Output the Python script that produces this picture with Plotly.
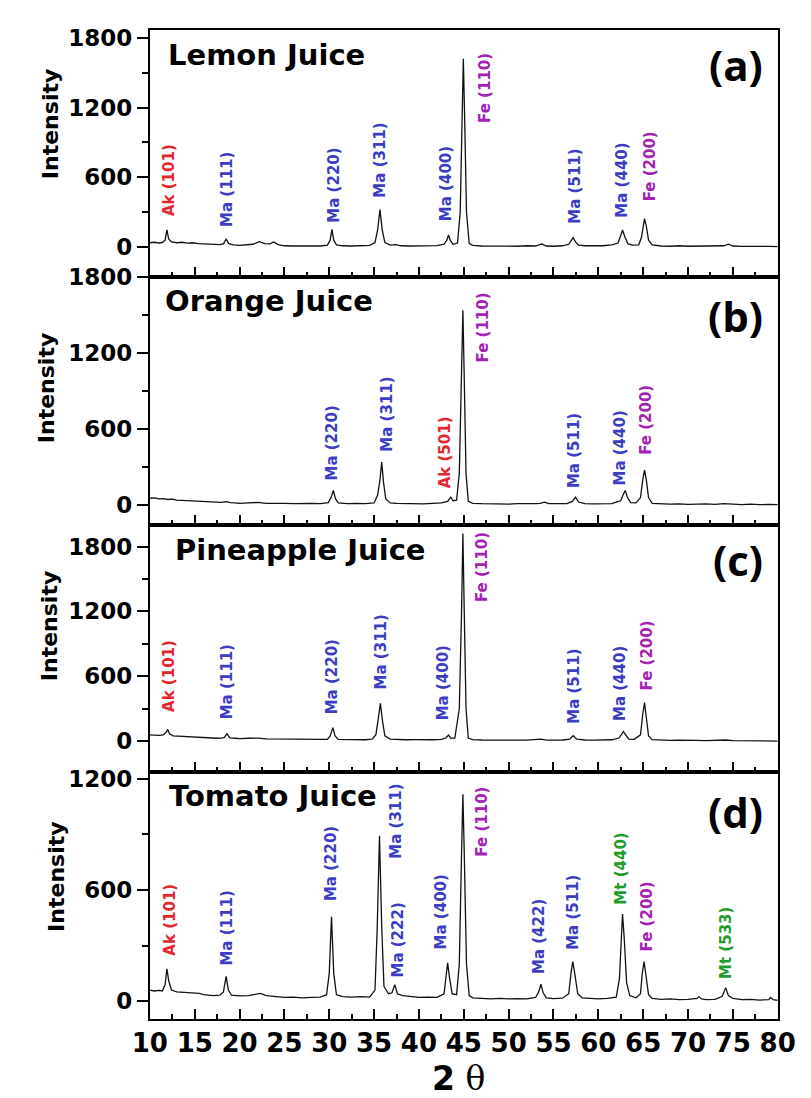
import plotly.graph_objects as go

# ---------------- data ----------------
TT_A = [10.0, 10.5, 11.0, 11.4, 11.7, 11.9, 12.1, 12.4, 13.0, 13.6, 14.2, 14.8, 15.4, 16.0, 16.6, 17.2, 17.8, 18.2, 18.5, 18.8,
        19.3, 20.0, 20.8, 21.5, 22.2, 22.8, 23.4, 23.8, 24.3, 25.0, 26.0, 27.0, 28.0, 29.0, 29.8, 30.1, 30.3, 30.5, 30.8, 31.5,
        32.5, 33.5, 34.5, 35.1, 35.4, 35.65, 35.9, 36.2, 36.8, 37.4, 38.0, 39.0, 40.0, 41.0, 42.0, 42.8, 43.1, 43.3, 43.5, 43.8,
        44.3, 44.6, 44.8, 44.95, 45.1, 45.3, 45.6, 46.0, 47.0, 48.0, 49.0, 50.0, 51.0, 52.0, 53.0, 53.7, 54.2, 55.0, 56.0, 56.7,
        57.0, 57.2, 57.45, 57.8, 58.5, 59.5, 60.5, 61.5, 62.2, 62.5, 62.7, 62.95, 63.3, 63.8, 64.5, 64.8, 65.0, 65.15, 65.35, 65.6,
        66.0, 67.0, 68.0, 69.0, 70.0, 71.0, 72.0, 73.0, 74.0, 74.5, 75.0, 76.0, 77.0, 78.0, 79.0, 80.0]
INT_A = [38, 42, 36, 40, 60, 148, 70, 45, 38, 42, 35, 38, 30, 28, 22, 18, 22, 28, 68, 30,
         20, 15, 18, 25, 48, 30, 28, 45, 22, 12, 10, 8, 12, 10, 18, 60, 153, 60, 20, 12,
         10, 14, 15, 40, 150, 323, 150, 40, 18, 22, 12, 10, 12, 8, 14, 25, 60, 105, 55, 25,
         35, 300, 1100, 1619, 1100, 300, 30, 15, 10, 8, 12, 10, 8, 12, 10, 28, 10, 8, 12, 25,
         65, 82, 45, 18, 12, 10, 12, 20, 35, 100, 147, 90, 30, 18, 20, 80, 200, 246, 180, 60,
         20, 10, 8, 12, 8, 10, 6, 10, 12, 25, 10, 6, 8, 4, 6, 5]

TT_B = [10.0, 10.5, 11.0, 11.5, 12.0, 12.5, 13.0, 13.5, 14.0, 14.5, 15.0, 15.5, 16.0, 16.5, 17.0, 17.5, 18.0, 18.5, 19.0, 19.5,
        20.0, 21.0, 22.0, 23.0, 24.0, 25.0, 26.0, 27.0, 28.0, 29.0, 29.9, 30.2, 30.45, 30.7, 31.0, 32.0, 33.0, 34.0, 35.0, 35.4,
        35.65, 35.85, 36.05, 36.3, 36.8, 37.5, 38.5, 39.5, 40.5, 41.5, 42.5, 43.2, 43.55, 43.8, 44.2, 44.5, 44.75, 44.9, 45.05, 45.25,
        45.5, 46.0, 47.0, 48.0, 49.0, 50.0, 51.0, 52.0, 53.0, 53.5, 54.0, 54.5, 55.5, 56.5, 57.1, 57.45, 57.8, 58.5, 59.5, 60.5,
        61.5, 62.0, 62.5, 62.75, 63.0, 63.25, 63.6, 64.2, 64.7, 64.95, 65.15, 65.35, 65.6, 66.0, 67.0, 68.0, 69.0, 70.0, 71.0, 72.0,
        73.0, 74.0, 75.0, 76.0, 77.0, 78.0, 79.0, 80.0]
INT_B = [55, 58, 50, 52, 45, 48, 40, 38, 35, 30, 28, 30, 25, 22, 25, 20, 22, 28, 20, 18,
         15, 18, 22, 15, 12, 14, 12, 10, 14, 12, 20, 60, 116, 50, 18, 12, 15, 12, 18, 80,
         200, 340, 180, 50, 18, 15, 12, 14, 10, 14, 18, 30, 63, 35, 40, 250, 1000, 1536, 1000, 250,
         30, 15, 12, 10, 12, 8, 12, 10, 12, 15, 24, 12, 10, 12, 30, 63, 25, 12, 10, 14,
         12, 25, 35, 80, 116, 60, 20, 18, 60, 200, 277, 200, 60, 15, 10, 8, 10, 6, 8, 10,
         6, 12, 8, 5, 8, 4, 6, 5]

TT_C = [10.0, 10.5, 11.0, 11.5, 11.8, 12.0, 12.2, 12.6, 13.0, 13.5, 14.0, 14.5, 15.0, 15.5, 16.0, 16.5, 17.0, 17.5, 18.0, 18.3,
        18.6, 18.9, 19.5, 20.0, 21.0, 22.0, 23.0, 24.0, 25.0, 26.0, 27.0, 28.0, 29.0, 29.8, 30.1, 30.4, 30.65, 31.0, 32.0, 33.0,
        34.0, 34.8, 35.2, 35.45, 35.7, 35.95, 36.2, 36.8, 37.5, 38.5, 39.5, 40.5, 41.5, 42.5, 43.0, 43.3, 43.55, 44.0, 44.5, 44.75,
        44.9, 45.05, 45.25, 45.5, 46.0, 47.0, 48.0, 49.0, 50.0, 51.0, 52.0, 53.0, 53.6, 54.2, 55.0, 56.0, 56.8, 57.2, 57.6, 58.5,
        59.5, 60.5, 61.5, 62.3, 62.6, 62.8, 63.05, 63.4, 64.0, 64.7, 64.95, 65.15, 65.35, 65.6, 66.0, 67.0, 68.0, 69.0, 70.0, 71.0,
        72.0, 73.0, 74.2, 75.0, 76.0, 77.0, 78.0, 79.0, 80.0]
INT_C = [60, 58, 55, 60, 80, 110, 70, 50, 48, 45, 42, 40, 38, 40, 34, 30, 32, 28, 30, 35,
         70, 32, 28, 25, 28, 30, 22, 20, 18, 16, 18, 15, 17, 18, 50, 126, 50, 18, 15, 16,
         14, 20, 60, 200, 351, 180, 50, 20, 16, 14, 15, 12, 14, 18, 30, 58, 30, 30, 300, 1200,
         1920, 1200, 300, 30, 15, 12, 10, 12, 9, 11, 10, 12, 20, 10, 9, 12, 20, 52, 20, 12,
         10, 12, 14, 30, 70, 89, 60, 20, 18, 60, 250, 357, 220, 50, 15, 10, 8, 10, 6, 8,
         6, 8, 12, 6, 4, 6, 3, 4, 2]

TT_D = [10.0, 10.5, 11.0, 11.4, 11.7, 11.9, 12.1, 12.4, 13.0, 13.5, 14.0, 15.0, 15.5, 16.0, 17.0, 17.8, 18.2, 18.5, 18.75, 19.1,
        20.0, 21.0, 22.0, 22.3, 23.0, 24.0, 25.0, 26.0, 27.0, 28.0, 29.0, 29.7, 30.0, 30.25, 30.5, 30.8, 31.5, 32.5, 33.5, 34.5,
        35.1, 35.35, 35.6, 35.85, 36.1, 36.6, 37.0, 37.3, 37.6, 38.2, 39.0, 40.0, 41.0, 42.0, 42.8, 43.05, 43.2, 43.4, 43.7, 44.2,
        44.5, 44.75, 44.9, 45.05, 45.3, 45.6, 46.0, 47.0, 48.0, 49.0, 50.0, 51.0, 52.0, 53.0, 53.35, 53.6, 53.85, 54.2, 55.0, 56.0,
        56.7, 56.95, 57.15, 57.4, 57.7, 58.2, 59.0, 60.0, 61.0, 62.0, 62.35, 62.55, 62.7, 62.9, 63.15, 63.5, 64.2, 64.7, 64.9, 65.1,
        65.3, 65.6, 66.0, 67.0, 68.0, 69.0, 70.0, 71.0, 71.2, 71.5, 72.0, 73.0, 73.8, 74.2, 74.5, 75.0, 76.0, 77.0, 78.0, 79.0,
        79.2, 79.5, 80.0]
INT_D = [60, 55, 58, 55, 90, 175, 110, 60, 50, 48, 45, 40, 42, 35, 30, 32, 50, 134, 60, 32,
         28, 30, 38, 42, 30, 25, 20, 22, 18, 20, 22, 35, 150, 455, 150, 35, 25, 22, 25, 22,
         60, 400, 893, 400, 80, 40, 45, 89, 40, 30, 25, 20, 22, 20, 40, 130, 207, 130, 40, 35,
         200, 800, 1116, 800, 200, 30, 18, 15, 12, 15, 12, 14, 12, 20, 50, 91, 45, 18, 14, 16,
         40, 150, 214, 140, 40, 18, 14, 12, 15, 22, 120, 350, 470, 330, 100, 30, 18, 40, 150, 214,
         140, 35, 15, 10, 12, 8, 10, 15, 25, 12, 8, 10, 25, 73, 30, 15, 8, 10, 6, 8,
         20, 8, 4]

SAMPLES = ["Lemon Juice", "Orange Juice", "Pineapple Juice", "Tomato Juice"]
PANEL_TAGS = ["(a)", "(b)", "(c)", "(d)"]
Y_TICKS = [[0, 600, 1200, 1800], [0, 600, 1200, 1800], [0, 600, 1200, 1800], [0, 600, 1200]]
X_TICKS = [10, 15, 20, 25, 30, 35, 40, 45, 50, 55, 60, 65, 70, 75, 80]

LAB_A = ["Ak (101)", "Ma (111)", "Ma (220)", "Ma (311)", "Ma (400)", "Fe (110)", "Ma (511)", "Ma (440)", "Fe (200)"]
LAB_A_X = [12.2, 18.6, 30.5, 35.7, 43.0, 47.35, 57.3, 62.6, 65.8]
LAB_A_Y = [255, 161, 204, 416, 218, 1058, 190, 246, 388]

LAB_B = ["Ma (220)", "Ma (311)", "Ak (501)", "Fe (110)", "Ma (511)", "Ma (440)", "Fe (200)"]
LAB_B_X = [30.3, 36.5, 43.0, 47.1, 57.3, 62.4, 65.3]
LAB_B_Y = [190, 414, 124, 1114, 124, 150, 388]

LAB_C = ["Ak (101)", "Ma (111)", "Ma (220)", "Ma (311)", "Ma (400)", "Fe (110)", "Ma (511)", "Ma (440)", "Fe (200)"]
LAB_C_X = [12.2, 18.7, 30.4, 35.8, 42.7, 47.1, 57.2, 62.4, 65.4]
LAB_C_Y = [258, 197, 243, 468, 181, 1274, 150, 181, 458]

LAB_D = ["Ak (101)", "Ma (111)", "Ma (220)", "Ma (311)", "Ma (222)", "Ma (400)", "Fe (110)", "Ma (422)", "Ma (511)",
         "Mt (440)", "Fe (200)", "Mt (533)"]
LAB_D_X = [12.2, 18.6, 30.2, 37.4, 37.7, 42.5, 47.0, 53.4, 57.15, 62.5, 65.45, 74.3]
LAB_D_Y = [238, 184, 532, 764, 121, 273, 773, 139, 273, 514, 264, 112]

PHASE_COLORS = {"Ak": "#e3262b", "Ma": "#3c3cc4", "Fe": "#a322b3", "Mt": "#1f9d2c"}

# ---------------- layout geometry ----------------
W, H = 811, 1098
X_DOM = [138 / W, 795 / W]
PANEL_PX = [(17, 267), (267, 518), (518, 768), (768, 1018)]
Y_RANGES = [[-255, 1868], [-155, 1800], [-283, 2000], [-96, 1237]]
TITLE_POS = [(156, 43), (153, 291), (163, 543), (157, 792)]
TAG_POS = [(781, 52), (781, 306), (781, 553), (781, 808)]
YTITLE_POS = [(34, 112), (30, 380), (33, 621), (40, 874)]

traces = [(TT_A, INT_A), (TT_B, INT_B), (TT_C, INT_C), (TT_D, INT_D)]
labels = [(LAB_A, LAB_A_X, LAB_A_Y), (LAB_B, LAB_B_X, LAB_B_Y), (LAB_C, LAB_C_X, LAB_C_Y), (LAB_D, LAB_D_X, LAB_D_Y)]

fig = go.Figure()
annotations = []
layout = {}
BOLD = dict(family="DejaVu Sans", color="black", weight="bold")

for i in range(4):
    n = "" if i == 0 else str(i + 1)
    xs, ys = traces[i]
    fig.add_trace(go.Scatter(x=xs, y=ys, mode="lines", line=dict(color="#111111", width=1.3),
                             xaxis="x" + n, yaxis="y" + n, showlegend=False, hoverinfo="skip"))
    top, bot = PANEL_PX[i]
    layout["xaxis" + n] = dict(
        domain=X_DOM, anchor="y" + n, range=[10, 80], tickvals=X_TICKS,
        ticks="inside", ticklen=10, tickwidth=1.6, tickcolor="black",
        minor=dict(dtick=2.5, tick0=10, ticks="inside", ticklen=5, tickwidth=1.6, tickcolor="black"),
        showline=True, linewidth=2, linecolor="black", mirror=True,
        showgrid=False, zeroline=False, showticklabels=(i == 3), ticklabeloverflow="allow",
        tickfont=dict(size=26, **BOLD),
    )
    layout["yaxis" + n] = dict(
        domain=[1 - bot / H, 1 - top / H], anchor="x" + n, range=Y_RANGES[i], tickvals=Y_TICKS[i],
        ticks="outside", ticklen=11, tickwidth=1.6, tickcolor="black",
        minor=dict(dtick=300, tick0=0, ticks="outside", ticklen=6, tickwidth=1.6, tickcolor="black"),
        showline=True, linewidth=2, linecolor="black", mirror=True, ticklabeloverflow="allow",
        showgrid=False, zeroline=False, tickfont=dict(size=23, **BOLD),
    )
    # peak labels
    for txt, lx, ly in zip(*labels[i]):
        annotations.append(dict(
            x=lx, y=ly, xref="x" + n, yref="y" + n, text=txt, showarrow=False, textangle=-90,
            xanchor="center", yanchor="bottom", borderpad=0,
            font=dict(family="DejaVu Sans", size=15, color=PHASE_COLORS[txt[:2]], weight="bold"),
        ))
    tx, ty = TITLE_POS[i]
    annotations.append(dict(x=tx / W, y=1 - ty / H, xref="paper", yref="paper", text=SAMPLES[i],
                            showarrow=False, xanchor="left", yanchor="middle", borderpad=0,
                            font=dict(size=29, **BOLD)))
    gx, gy = TAG_POS[i]
    annotations.append(dict(x=gx / W, y=1 - gy / H, xref="paper", yref="paper", text=PANEL_TAGS[i],
                            showarrow=False, xanchor="right", yanchor="middle", borderpad=0,
                            font=dict(family="Open Sans", size=42, color="black", weight="bold")))
    ix, iy = YTITLE_POS[i]
    annotations.append(dict(x=ix / W, y=1 - iy / H, xref="paper", yref="paper", text="Intensity",
                            showarrow=False, textangle=-90, xanchor="center", yanchor="middle", borderpad=0,
                            font=dict(size=22, **BOLD)))

annotations.append(dict(x=461 / W, y=1 - 1078 / H, xref="paper", yref="paper",
                        text="<b>2</b> <span style='font-family:DejaVu Serif'>θ</span>",
                        showarrow=False, xanchor="center", yanchor="middle", borderpad=0,
                        font=dict(family="DejaVu Sans", size=33, color="black")))

fig.update_layout(
    width=W, height=H, margin=dict(l=0, r=0, t=0, b=0),
    paper_bgcolor="white", plot_bgcolor="white",
    annotations=annotations, **layout,
)

fig.write_html("out.html", post_script="document.body.style.margin='0';document.body.style.overflow='hidden';")
